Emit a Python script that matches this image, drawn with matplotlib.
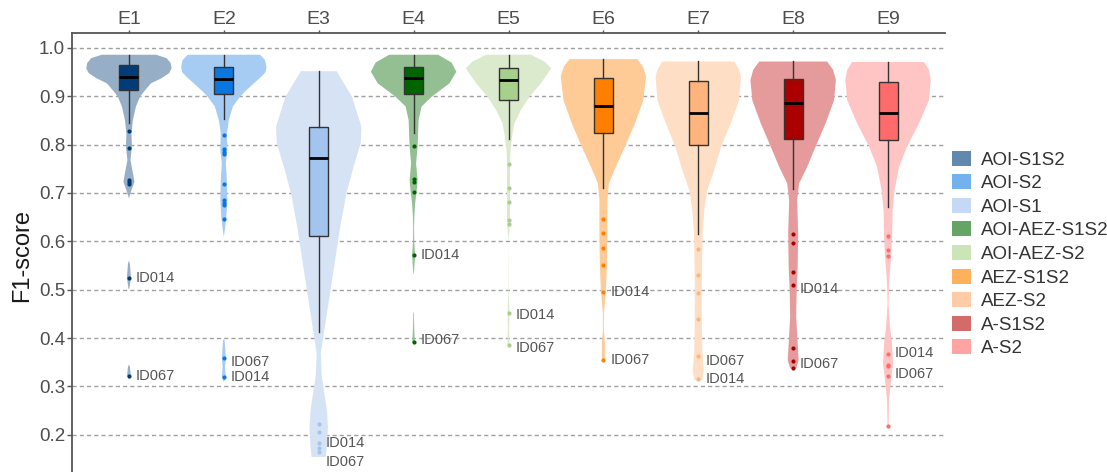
import numpy as np
import matplotlib
matplotlib.use("Agg")
import matplotlib.pyplot as plt
from matplotlib.patches import Patch

plt.rcParams["font.family"] = ["Liberation Sans", "DejaVu Sans"]
plt.rcParams["lines.scale_dashes"] = False

# ---- data -------------------------------------------------------------
experiments = ["E1", "E2", "E3", "E4", "E5", "E6", "E7", "E8", "E9"]
methods = ["AOI-S1S2", "AOI-S2", "AOI-S1", "AOI-AEZ-S1S2", "AOI-AEZ-S2",
           "AEZ-S1S2", "AEZ-S2", "A-S1S2", "A-S2"]

q1 = [0.913, 0.905, 0.611, 0.904, 0.892, 0.825, 0.799, 0.812, 0.809]
median = [0.941, 0.935, 0.772, 0.937, 0.934, 0.880, 0.866, 0.887, 0.865]
q3 = [0.964, 0.961, 0.836, 0.961, 0.959, 0.938, 0.932, 0.936, 0.929]
whisker_lo = [0.845, 0.853, 0.413, 0.825, 0.812, 0.711, 0.616, 0.708, 0.670]
whisker_hi = [0.986, 0.986, 0.952, 0.986, 0.986, 0.977, 0.973, 0.973, 0.971]

outliers = [
    [0.828, 0.794, 0.727, 0.722, 0.718, 0.525, 0.321],
    [0.820, 0.790, 0.785, 0.781, 0.719, 0.685, 0.680, 0.675, 0.646, 0.358, 0.320],
    [0.223, 0.206, 0.182, 0.173, 0.164],
    [0.798, 0.728, 0.723, 0.703, 0.571, 0.392],
    [0.761, 0.711, 0.681, 0.645, 0.636, 0.452, 0.385],
    [0.647, 0.618, 0.587, 0.552, 0.495, 0.355],
    [0.585, 0.531, 0.494, 0.440, 0.362, 0.316],
    [0.616, 0.597, 0.536, 0.509, 0.379, 0.353, 0.337],
    [0.611, 0.582, 0.570, 0.366, 0.345, 0.342, 0.321, 0.218],
]

# F1-score of the two labelled sites in each experiment
id014 = [0.525, 0.320, 0.182, 0.571, 0.452, 0.495, 0.316, 0.509, 0.366]
id067 = [0.321, 0.358, 0.164, 0.392, 0.385, 0.355, 0.362, 0.353, 0.342]

# kernel density profiles (F1 level, relative density)
density_y = [
    [0.986, 0.979, 0.969, 0.958, 0.948, 0.937, 0.927, 0.910, 0.899, 0.879, 0.851, 0.823,
     0.796, 0.768, 0.741, 0.723, 0.706, 0.689, 0.560, 0.553, 0.525, 0.503, 0.500,
     0.345, 0.340, 0.322, 0.315],
    [0.986, 0.975, 0.961, 0.950, 0.940, 0.927, 0.910, 0.899, 0.879, 0.851, 0.823, 0.789,
     0.761, 0.727, 0.685, 0.650, 0.623, 0.609, 0.398, 0.395, 0.358, 0.340, 0.320,
     0.312, 0.310],
    [0.952, 0.899, 0.837, 0.803, 0.754, 0.699, 0.630, 0.561, 0.492, 0.423, 0.368, 0.320,
     0.251, 0.216, 0.175, 0.154],
    [0.986, 0.970, 0.951, 0.927, 0.899, 0.879, 0.851, 0.823, 0.796, 0.761, 0.727, 0.703,
     0.678, 0.651, 0.630, 0.600, 0.571, 0.540, 0.530, 0.455, 0.451, 0.420, 0.392, 0.386],
    [0.986, 0.972, 0.958, 0.927, 0.899, 0.872, 0.844, 0.816, 0.789, 0.761, 0.711, 0.681,
     0.645, 0.620, 0.602, 0.489, 0.452, 0.420, 0.385, 0.380],
    [0.977, 0.960, 0.941, 0.892, 0.844, 0.796, 0.754, 0.720, 0.685, 0.616, 0.547, 0.499,
     0.451, 0.416, 0.389, 0.354],
    [0.972, 0.955, 0.941, 0.892, 0.844, 0.796, 0.747, 0.706, 0.665, 0.623, 0.582, 0.513,
     0.444, 0.375, 0.333, 0.313],
    [0.972, 0.955, 0.934, 0.892, 0.844, 0.796, 0.754, 0.720, 0.685, 0.616, 0.547, 0.499,
     0.444, 0.389, 0.354, 0.337],
    [0.971, 0.955, 0.934, 0.892, 0.844, 0.796, 0.754, 0.706, 0.665, 0.609, 0.568, 0.513,
     0.471, 0.423, 0.389, 0.347, 0.313, 0.271, 0.216],
]
density = [
    [27, 37.5, 41.5, 42.5, 40, 32, 22, 15, 11, 7, 4, 2.5, 3, 1.5, 4, 5.5, 2.5, 0,
     0, 1, 2, 0.5, 0, 0, 1, 1.8, 0],
    [36, 41, 42.5, 41.5, 37, 30, 21, 16, 9, 5, 3, 3.5, 2, 3, 3.5, 2.5, 1, 0,
     0, 0.8, 2, 1.2, 2, 0.8, 0],
    [17.5, 32.5, 41.7, 41, 34, 27, 21, 16, 11, 6, 2, 3, 8, 9, 8, 7],
    [24.5, 38, 42.8, 36, 18, 8, 5, 4.5, 4, 2.5, 4, 3, 1.5, 0.7, 0.4, 0.6, 1.5, 0.5, 0,
     0, 0.3, 0.6, 1.3, 0],
    [22.5, 36, 42.8, 32.5, 21, 12.5, 6, 3.5, 2, 1.5, 1.5, 1.5, 1.5, 0.8, 0, 0.3, 1, 0.6, 1, 0],
    [34, 40, 42.8, 40, 31.7, 21.7, 12.5, 5.5, 4, 4, 3.5, 2.5, 0.5, 0.5, 1.5, 1.5],
    [36, 41, 42.8, 41, 32.5, 23, 16, 9, 6, 4.5, 4, 3.5, 3.5, 4, 5.5, 4],
    [34, 40, 42.8, 41, 32.5, 22.5, 14, 6, 4, 5, 4.5, 3.5, 3, 4.5, 5.5, 3],
    [36, 41, 42.8, 41, 31, 19, 11, 6.5, 4.5, 4, 3, 1, 0.5, 2, 4, 5, 3, 1, 0.5],
]

# ---- styling ----------------------------------------------------------
violin_colors = ["#96aec6", "#a7ccf4", "#d6e3f5", "#93bf93", "#dbeacd",
                 "#fecb97", "#fedfc5", "#e59b9b", "#ffc4c4"]
box_colors = ["#003c78", "#0a77e0", "#a2c4ef", "#006400", "#a8d08d",
              "#ff8000", "#ffb47e", "#aa0000", "#ff6b6b"]
legend_colors = ["#6189ae", "#74b2ee", "#c5d9f4", "#64a566", "#cce5b8",
                 "#ffb05c", "#ffcba6", "#d46b6b", "#ffa3a3"]
# vertical nudges (points) of the site labels
dy014 = [0, 0, 0, 0, -1.5, 0, 0, -2.5, 1.0]
dy067 = [0, -2.5, -7, 1.5, -2, 0, -3, -2, -5.5]

W, H, DPI = 1107, 472, 100
fig = plt.figure(figsize=(W / DPI, H / DPI), dpi=DPI)
ymax, ymin = 1.031, 0.1228
ax = fig.add_axes([72 / W, 0.0, (945 - 72) / W, 1 - 33 / H])
ax.set_xlim(0.4, 9.6)
ax.set_ylim(ymin, ymax)

positions = np.arange(1, len(experiments) + 1)

for i, pos in enumerate(positions):
    ys = np.array(density_y[i])
    vpstats = [dict(coords=ys, vals=np.array(density[i], dtype=float),
                    mean=median[i], median=median[i],
                    min=ys.min(), max=ys.max())]
    parts = ax.violin(vpstats, positions=[pos], widths=0.9,
                      showextrema=False, showmedians=False, showmeans=False)
    for body in parts["bodies"]:
        body.set_facecolor(violin_colors[i])
        body.set_edgecolor("none")
        body.set_linewidth(0)
        body.set_alpha(1)
        body.set_zorder(2)

    stats = [dict(med=median[i], q1=q1[i], q3=q3[i],
                  whislo=whisker_lo[i], whishi=whisker_hi[i], fliers=[])]
    bp = ax.bxp(stats, positions=[pos], widths=0.2, patch_artist=True,
                showcaps=False, showfliers=False, manage_ticks=False,
                boxprops=dict(facecolor=box_colors[i], edgecolor="#333333", linewidth=1.0),
                medianprops=dict(color="black", linewidth=2.0),
                whiskerprops=dict(color="#333333", linewidth=1.0))
    for art in bp["boxes"] + bp["medians"] + bp["whiskers"]:
        art.set_zorder(3)

    ax.plot([pos] * len(outliers[i]), outliers[i], "o", ms=3.0,
            color=box_colors[i], mec="none", zorder=4)

    ax.annotate("ID014", (pos, id014[i]), xytext=(5, dy014[i]),
                textcoords="offset points", ha="left", va="center",
                fontsize=10.5, color="#555555", zorder=5)
    ax.annotate("ID067", (pos, id067[i]), xytext=(5, dy067[i]),
                textcoords="offset points", ha="left", va="center",
                fontsize=10.5, color="#555555", zorder=5)

# grid
yticks = [0.2, 0.3, 0.4, 0.5, 0.6, 0.7, 0.8, 0.9, 1.0]
ax.set_yticks(yticks)
ax.set_yticklabels([f"{v:.1f}" for v in yticks])
ax.set_axisbelow(True)
ax.yaxis.grid(True, color="#a0a0a0", linewidth=1.0, linestyle=(0, (3, 2.2)), zorder=0)
ax.xaxis.grid(False)

ax.xaxis.tick_top()
ax.set_xticks(positions)
ax.set_xticklabels(experiments)
ax.tick_params(axis="x", top=True, bottom=False, length=2.5, width=1,
               color="#555555", pad=1, labelsize=14, labelcolor="#4d4d4d")
ax.tick_params(axis="y", left=True, length=3.5, width=1, color="#555555",
               pad=1.5, labelsize=13.5, labelcolor="#4d4d4d")

for side in ("right", "bottom"):
    ax.spines[side].set_visible(False)
for side in ("left", "top"):
    ax.spines[side].set_color("#555555")
    ax.spines[side].set_linewidth(1.3)

ax.set_ylabel("F1-score", fontsize=17, color="#1a1a1a")
ax.yaxis.set_label_coords(-0.0447, (H - 255) / (H - 33))

handles = [Patch(facecolor=c, edgecolor="none") for c in legend_colors]
fig.legend(handles, methods, loc="center left",
           bbox_to_anchor=(952 / W, 1 - 254 / H), frameon=False,
           fontsize=13.5, handlelength=1.0, handleheight=0.85,
           handletextpad=0.55, labelspacing=0.3, borderpad=0,
           borderaxespad=0, labelcolor="#333333")

fig.savefig("out.png", dpi=DPI)
